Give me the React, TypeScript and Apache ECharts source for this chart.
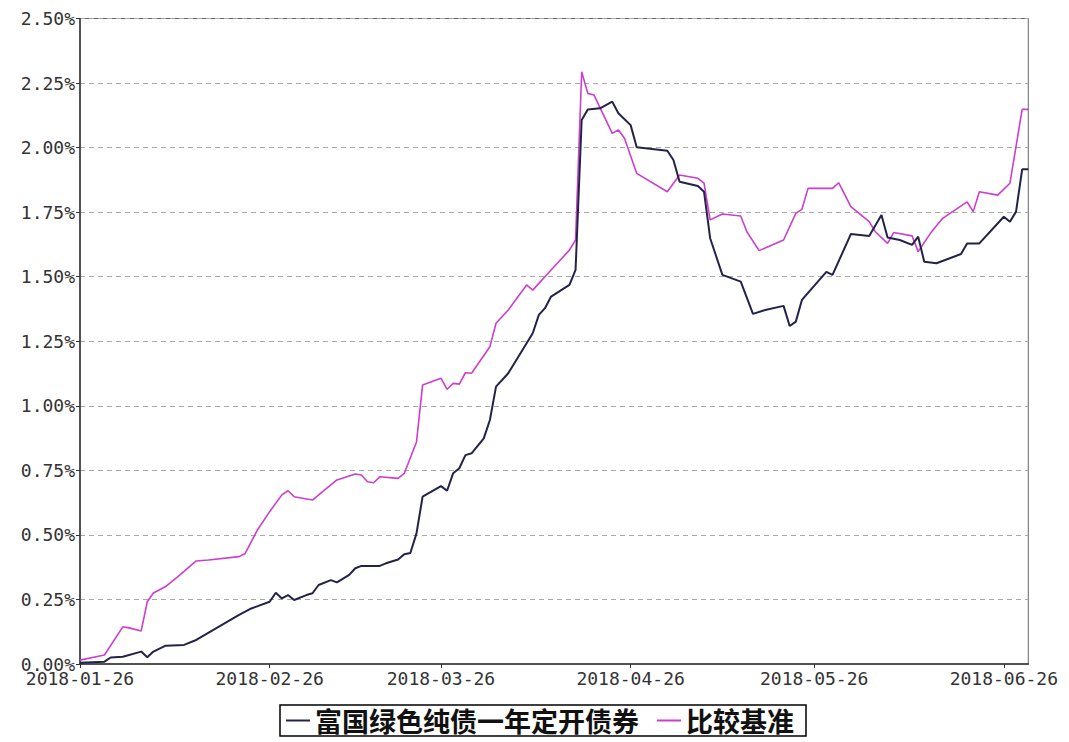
import React, { useEffect, useRef } from "react";
import * as echarts from "echarts";

// Category axis: every calendar day from 2018-01-26 to 2018-06-30
const startDate = "2018-01-26";
const endDate = "2018-06-30";

const yTicks = [0, 0.25, 0.5, 0.75, 1.0, 1.25, 1.5, 1.75, 2.0, 2.25, 2.5];

const fundName = "富国绿色纯债一年定开债券";
const benchName = "比较基准";

const fundDates = [
  "2018-01-26", "2018-01-30", "2018-01-31", "2018-02-02", "2018-02-05", "2018-02-06", "2018-02-07",
  "2018-02-09", "2018-02-12", "2018-02-14", "2018-02-21", "2018-02-23", "2018-02-26", "2018-02-27",
  "2018-02-28", "2018-03-01", "2018-03-02", "2018-03-04", "2018-03-05", "2018-03-06", "2018-03-08",
  "2018-03-09", "2018-03-11", "2018-03-12", "2018-03-13", "2018-03-16", "2018-03-17", "2018-03-19",
  "2018-03-20", "2018-03-21", "2018-03-22", "2018-03-23", "2018-03-26", "2018-03-27", "2018-03-28",
  "2018-03-29", "2018-03-30", "2018-03-31", "2018-04-02", "2018-04-03", "2018-04-04", "2018-04-06",
  "2018-04-10", "2018-04-11", "2018-04-12", "2018-04-13", "2018-04-16", "2018-04-17", "2018-04-18",
  "2018-04-19", "2018-04-21", "2018-04-23", "2018-04-24", "2018-04-26", "2018-04-27", "2018-05-02",
  "2018-05-03", "2018-05-04", "2018-05-07", "2018-05-08", "2018-05-09", "2018-05-11", "2018-05-14",
  "2018-05-16", "2018-05-18", "2018-05-21", "2018-05-22", "2018-05-23", "2018-05-24", "2018-05-28",
  "2018-05-29", "2018-06-01", "2018-06-04", "2018-06-06", "2018-06-07", "2018-06-09", "2018-06-11",
  "2018-06-12", "2018-06-13", "2018-06-15", "2018-06-19", "2018-06-20", "2018-06-22", "2018-06-26",
  "2018-06-27", "2018-06-28", "2018-06-29", "2018-06-30",
];
const fundValues = [
  0.005, 0.009, 0.025, 0.028, 0.048, 0.026, 0.048,
  0.071, 0.074, 0.093, 0.19, 0.215, 0.241, 0.276,
  0.254, 0.267, 0.248, 0.267, 0.274, 0.306, 0.325,
  0.316, 0.345, 0.371, 0.38, 0.38, 0.39, 0.405,
  0.425, 0.43, 0.506, 0.648, 0.689, 0.671, 0.739,
  0.758, 0.809, 0.816, 0.874, 0.945, 1.074, 1.126,
  1.281, 1.352, 1.378, 1.423, 1.468, 1.526, 2.107,
  2.148, 2.152, 2.178, 2.133, 2.087, 2.001, 1.988,
  1.952, 1.868, 1.851, 1.829, 1.649, 1.507, 1.481,
  1.356, 1.371, 1.387, 1.309, 1.326, 1.41, 1.519,
  1.507, 1.665, 1.658, 1.739, 1.652, 1.642, 1.623,
  1.655, 1.558, 1.552, 1.588, 1.629, 1.629, 1.732,
  1.713, 1.752, 1.916, 1.916,
];

const benchDates = [
  "2018-01-26", "2018-01-30", "2018-02-02", "2018-02-03", "2018-02-05", "2018-02-06", "2018-02-07",
  "2018-02-09", "2018-02-11", "2018-02-14", "2018-02-16", "2018-02-21", "2018-02-22", "2018-02-24",
  "2018-02-26", "2018-02-28", "2018-03-01", "2018-03-02", "2018-03-05", "2018-03-07", "2018-03-09",
  "2018-03-12", "2018-03-13", "2018-03-14", "2018-03-15", "2018-03-16", "2018-03-19", "2018-03-20",
  "2018-03-22", "2018-03-23", "2018-03-26", "2018-03-27", "2018-03-28", "2018-03-29", "2018-03-30",
  "2018-03-31", "2018-04-03", "2018-04-04", "2018-04-06", "2018-04-09", "2018-04-10", "2018-04-13",
  "2018-04-16", "2018-04-17", "2018-04-18", "2018-04-19", "2018-04-20", "2018-04-23", "2018-04-24",
  "2018-04-25", "2018-04-27", "2018-05-02", "2018-05-04", "2018-05-07", "2018-05-08", "2018-05-09",
  "2018-05-11", "2018-05-14", "2018-05-15", "2018-05-17", "2018-05-21", "2018-05-23", "2018-05-24",
  "2018-05-25", "2018-05-29", "2018-05-30", "2018-06-01", "2018-06-04", "2018-06-05", "2018-06-07",
  "2018-06-08", "2018-06-11", "2018-06-12", "2018-06-14", "2018-06-16", "2018-06-20", "2018-06-21",
  "2018-06-22", "2018-06-25", "2018-06-27", "2018-06-29", "2018-06-30",
];
const benchValues = [
  0.015, 0.035, 0.144, 0.14, 0.128, 0.241, 0.275,
  0.3, 0.338, 0.399, 0.403, 0.416, 0.428, 0.519,
  0.59, 0.655, 0.671, 0.648, 0.635, 0.674, 0.713,
  0.736, 0.732, 0.706, 0.702, 0.725, 0.719, 0.738,
  0.86, 1.081, 1.107, 1.064, 1.087, 1.084, 1.128,
  1.126, 1.229, 1.32, 1.371, 1.468, 1.448, 1.526,
  1.603, 1.642, 2.294, 2.21, 2.204, 2.055, 2.068,
  2.036, 1.9, 1.829, 1.894, 1.881, 1.862, 1.72,
  1.743, 1.735, 1.674, 1.601, 1.642, 1.745, 1.761,
  1.842, 1.842, 1.864, 1.771, 1.713, 1.674, 1.629,
  1.671, 1.658, 1.597, 1.668, 1.726, 1.79, 1.752,
  1.829, 1.816, 1.862, 2.148, 2.148,
];

const fundColor = "#23234a";
const benchColor = "#cc3fcc";

function buildCategories(start: string, end: string): string[] {
  const out: string[] = [];
  const d = new Date(start + "T00:00:00Z");
  const e = new Date(end + "T00:00:00Z");
  while (d.getTime() <= e.getTime()) {
    out.push(d.toISOString().slice(0, 10));
    d.setUTCDate(d.getUTCDate() + 1);
  }
  return out;
}

export default function App() {
  const ref = useRef<HTMLDivElement>(null);

  useEffect(() => {
    if (!ref.current) return;
    const chart = echarts.init(ref.current, undefined, { renderer: "svg" });
    const categories = buildCategories(startDate, endDate);
    const isLabelDay = (_i: number, v: string) => v.endsWith("-26");
    const axisFont = "'DejaVu Sans Mono', monospace";

    chart.setOption({
      animation: false,
      backgroundColor: "#ffffff",
      grid: {
        left: 72,
        right: 31,
        top: 10.5,
        height: 645.5,
        show: true,
        borderColor: "#666",
        borderWidth: 1,
        backgroundColor: "transparent",
      },
      legend: {
        left: 272,
        top: 697,
        data: [fundName, benchName],
        icon: "rect",
        itemWidth: 24,
        itemHeight: 2,
        itemGap: 18,
        padding: [2, 12, 2, 6],
        borderColor: "#000",
        borderWidth: 1.5,
        textStyle: {
          fontFamily: "'Noto Sans CJK SC', sans-serif",
          fontSize: 27,
          fontWeight: "bold",
          color: "#111",
        },
      },
      xAxis: {
        type: "category",
        data: categories,
        boundaryGap: false,
        axisLine: { show: true, lineStyle: { color: "#333", width: 1.5 } },
        axisTick: { show: true, interval: isLabelDay, length: 4, lineStyle: { color: "#333" } },
        axisLabel: {
          interval: isLabelDay,
          margin: 5,
          fontFamily: axisFont,
          fontSize: 18,
          color: "#333",
        },
        splitLine: { show: false },
      },
      yAxis: {
        type: "value",
        min: yTicks[0],
        max: yTicks[yTicks.length - 1],
        interval: 0.25,
        axisLine: { show: true, lineStyle: { color: "#333", width: 1.5 } },
        axisTick: { show: true, length: 4, lineStyle: { color: "#333" } },
        axisLabel: {
          margin: 5,
          fontFamily: axisFont,
          fontSize: 18,
          color: "#333",
          formatter: (v: number) => v.toFixed(2) + "%",
        },
        splitLine: { show: true, lineStyle: { color: "#aaa", type: [5, 4], width: 1 } },
      },
      series: [
        {
          name: fundName,
          type: "line",
          showSymbol: false,
          color: fundColor,
          lineStyle: { color: fundColor, width: 2 },
          data: fundDates.map((d, i) => [d, fundValues[i]]),
          z: 3,
        },
        {
          name: benchName,
          type: "line",
          showSymbol: false,
          color: benchColor,
          lineStyle: { color: benchColor, width: 1.6 },
          data: benchDates.map((d, i) => [d, benchValues[i]]),
          z: 2,
        },
      ],
    });
    return () => chart.dispose();
  }, []);

  return <div ref={ref} style={{ width: 1053, height: 734 }} />;
}
